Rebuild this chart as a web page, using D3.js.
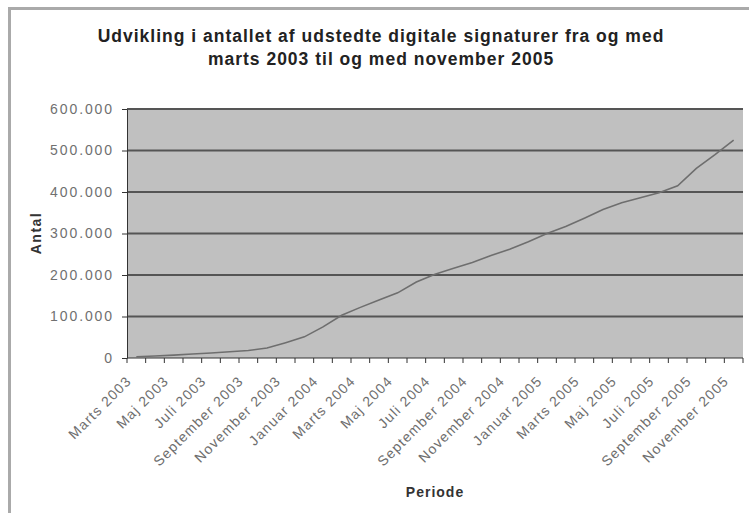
<!DOCTYPE html>
<html>
<head>
<meta charset="utf-8">
<script src="https://cdn.jsdelivr.net/npm/d3@7"></script>
<style>
  html, body { margin: 0; padding: 0; background: #fff; }
  svg { display: block; }
  text { font-family: "Liberation Sans", Arial, sans-serif; }
</style>
</head>
<body>
<svg id="chart" width="749" height="513"></svg>
<script>
// ---- Data ----
const titleLines = [
  "Udvikling i antallet af udstedte digitale signaturer fra og med",
  "marts 2003 til og med november 2005"
];
const months = [
  "Marts 2003", "April 2003", "Maj 2003", "Juni 2003", "Juli 2003", "August 2003",
  "September 2003", "Oktober 2003", "November 2003", "December 2003",
  "Januar 2004", "Februar 2004", "Marts 2004", "April 2004", "Maj 2004", "Juni 2004",
  "Juli 2004", "August 2004", "September 2004", "Oktober 2004", "November 2004", "December 2004",
  "Januar 2005", "Februar 2005", "Marts 2005", "April 2005", "Maj 2005", "Juni 2005",
  "Juli 2005", "August 2005", "September 2005", "Oktober 2005", "November 2005"
];
const antal = [
  3000, 5000, 7000, 9500, 12000, 15000, 18000, 24000, 37000, 51000,
  75000, 103000, 122000, 140000, 157000, 183000, 202000, 216000, 230000, 247000,
  262000, 280000, 300000, 317000, 337000, 358000, 374000, 386000, 398000, 415000,
  457000, 490000, 525000
];
const yTicks = [0, 100000, 200000, 300000, 400000, 500000, 600000];
const yLabel = "Antal";
const xLabel = "Periode";

// ---- Layout ----
const svg = d3.select("#chart");
const plot = { left: 127, right: 743, top: 109, bottom: 358 };

// outer frame
svg.append("rect")
  .attr("x", 9.5).attr("y", 8.5).attr("width", 800).attr("height", 600)
  .attr("fill", "#fff").attr("stroke", "#aaaaaa").attr("stroke-width", 3);

const x = d3.scaleBand().domain(months).range([plot.left, plot.right]).paddingInner(0).paddingOuter(0);
const y = d3.scaleLinear().domain([0, 600000]).range([plot.bottom, plot.top]);

// plot background
svg.append("rect")
  .attr("x", plot.left).attr("y", plot.top)
  .attr("width", plot.right - plot.left).attr("height", plot.bottom - plot.top)
  .attr("fill", "#c0c0c0");

// gridlines
svg.append("g").selectAll("line").data(yTicks.filter(d => d > 0)).join("line")
  .attr("x1", plot.left).attr("x2", plot.right)
  .attr("y1", d => y(d)).attr("y2", d => y(d))
  .attr("stroke", "#555").attr("stroke-width", 1.8);

// y axis
const fmt = d => d === 0 ? "0" : d3.format(",")(d).replace(/,/g, ".");
const yAxis = svg.append("g")
  .attr("transform", `translate(${plot.left},0)`)
  .call(d3.axisLeft(y).tickValues(yTicks).tickSize(5).tickSizeOuter(0).tickPadding(8).tickFormat(fmt));
yAxis.select(".domain").attr("stroke", "#333").attr("stroke-width", 1);
yAxis.selectAll(".tick line").attr("stroke", "#333");
yAxis.selectAll("text")
  .attr("fill", "#707070").style("font-size", "14px").style("letter-spacing", "1.9px")
  .style("font-family", "'Liberation Sans', Arial, sans-serif");

// x axis line and ticks at category boundaries
const xAxisG = svg.append("g");
xAxisG.append("line")
  .attr("x1", plot.left).attr("x2", plot.right)
  .attr("y1", plot.bottom).attr("y2", plot.bottom)
  .attr("stroke", "#333").attr("stroke-width", 1);
const boundaries = months.map(m => x(m)).concat([x(months[months.length - 1]) + x.bandwidth()]);
xAxisG.selectAll("line.tk").data(boundaries).join("line").attr("class", "tk")
  .attr("x1", d => d).attr("x2", d => d)
  .attr("y1", plot.bottom).attr("y2", plot.bottom + 5)
  .attr("stroke", "#333").attr("stroke-width", 1);

// x labels every second month
const labelled = months.filter((m, i) => i % 2 === 0);
xAxisG.selectAll("text").data(labelled).join("text")
  .attr("transform", d => `translate(${x(d) + x.bandwidth() / 2 - 4},${plot.bottom + 24}) rotate(-45)`)
  .attr("text-anchor", "end")
  .attr("fill", "#6e6e6e")
  .style("font-size", "14px").style("letter-spacing", "1.2px")
  .text(d => d);

// line
const line = d3.line()
  .x((d, i) => x(months[i]) + x.bandwidth() / 2)
  .y(d => y(d));
svg.append("path").datum(antal)
  .attr("d", line)
  .attr("fill", "none").attr("stroke", "#6e6e6e").attr("stroke-width", 1.6);

// title
svg.append("g").selectAll("text").data(titleLines).join("text")
  .attr("x", 381).attr("y", (d, i) => 42 + i * 23)
  .attr("text-anchor", "middle")
  .attr("fill", "#222")
  .style("font-size", "17.5px").style("font-weight", "bold").style("letter-spacing", "1px")
  .text(d => d);

// axis titles
svg.append("text")
  .attr("transform", "translate(41,233) rotate(-90)")
  .attr("text-anchor", "middle").attr("fill", "#333")
  .style("font-size", "14px").style("font-weight", "bold").style("letter-spacing", "1.5px")
  .text(yLabel);
svg.append("text")
  .attr("x", 435).attr("y", 497)
  .attr("text-anchor", "middle").attr("fill", "#333")
  .style("font-size", "14px").style("font-weight", "bold").style("letter-spacing", "1px")
  .text(xLabel);
</script>
</body>
</html>
